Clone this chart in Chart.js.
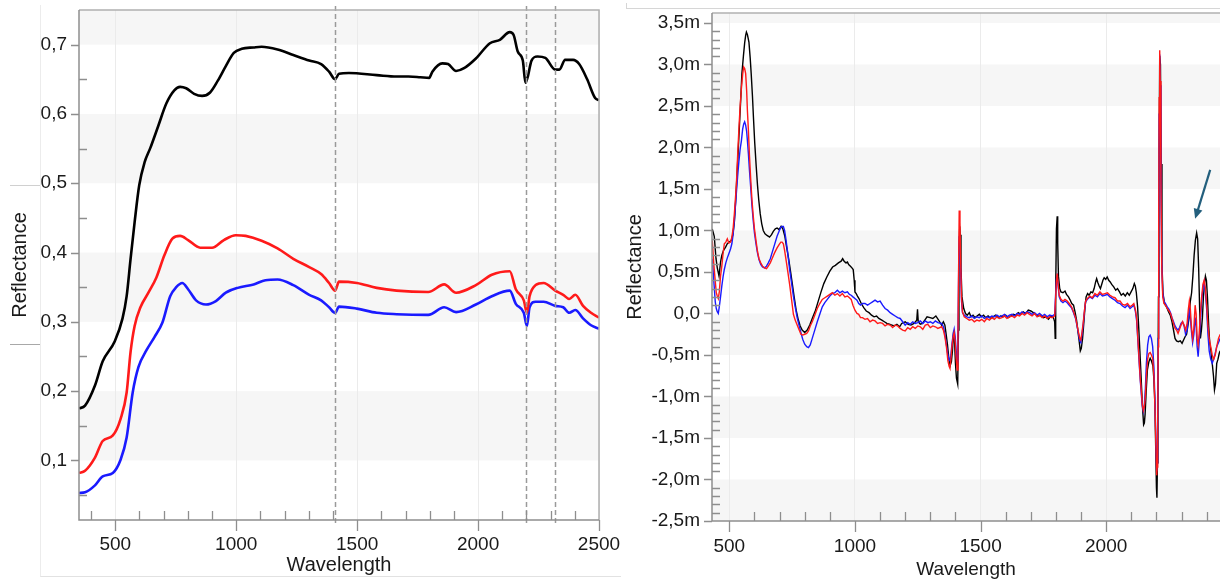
<!DOCTYPE html>
<html><head><meta charset="utf-8">
<script src="https://cdn.jsdelivr.net/npm/chart.js@4.4.1/dist/chart.umd.min.js"></script>
<style>
html,body{margin:0;padding:0;background:#fff;width:1220px;height:581px;overflow:hidden;position:relative}
.abs{position:absolute}
#left{position:absolute;left:0;top:0}
#right{position:absolute;left:620px;top:0}
</style></head><body>
<div class="abs" style="left:40px;top:5px;width:580px;height:571px;border-left:1px solid #ececec;border-bottom:1px solid #e2e2e2"></div>
<div class="abs" style="left:10px;top:185px;width:30px;height:0;border-top:1px solid #d0d0d0"></div>
<div class="abs" style="left:10px;top:344px;width:30px;height:0;border-top:1px solid #a8a8a8"></div>
<div class="abs" style="left:626px;top:8px;width:594px;height:0;border-top:1px solid #d6d6d6"></div>
<div class="abs" style="left:626px;top:3px;width:0;height:6px;border-left:1px solid #d6d6d6"></div>
<canvas id="left" width="620" height="581"></canvas>
<canvas id="right" width="600" height="581"></canvas>
<script>
// ---------- LEFT PANEL (reflectance spectra) ----------
const leftXTicks = [500, 1000, 1500, 2000, 2500];
const leftXTickLabels = ['500', '1000', '1500', '2000', '2500'];
const leftYTicks = [0.1, 0.2, 0.3, 0.4, 0.5, 0.6, 0.7];
const leftYTickLabels = ['0,1', '0,2', '0,3', '0,4', '0,5', '0,6', '0,7'];
const leftMarkers = [1410, 2200, 2320];

const leftBlackWl = [350,375,416,448,498,530,547,563,580,599,621,645,678,711,744,768,793,826,859,892,
  924,957,990,1023,1072,1105,1171,1236,1302,1351,1384,1409,1425,1466,1581,1663,1712,1761,1798,1811,
  1852,1876,1909,1942,1991,2049,2090,2131,2147,2164,2185,2196,2205,2221,2246,2278,2319,2336,2360,2393,
  2418,2451,2484,2500];
const leftBlack = [0.175,0.179,0.208,0.243,0.272,0.305,0.337,0.39,0.444,0.497,0.53,0.551,0.583,0.615,0.634,0.639,0.637,0.629,0.626,0.631,
  0.648,0.669,0.688,0.694,0.696,0.697,0.693,0.685,0.677,0.672,0.661,0.650,0.658,0.659,0.656,0.654,0.654,0.653,0.652,0.661,
  0.673,0.672,0.662,0.666,0.68,0.702,0.707,0.718,0.714,0.690,0.677,0.645,0.653,0.677,0.683,0.681,0.664,0.664,0.678,0.678,
  0.672,0.650,0.623,0.620];

const leftRedWl = [350,375,416,448,490,522,547,563,580,604,637,670,703,736,768,801,851,900,949,998,
  1039,1105,1171,1236,1302,1351,1384,1409,1425,1499,1581,1663,1794,1860,1909,1991,2057,2131,2156,2189,
  2202,2213,2238,2271,2319,2352,2377,2402,2434,2467,2500];
const leftRed = [0.082,0.085,0.104,0.128,0.136,0.160,0.198,0.256,0.294,0.321,0.342,0.364,0.396,0.420,0.424,0.418,0.407,0.407,0.418,0.425,
  0.424,0.417,0.406,0.391,0.379,0.369,0.356,0.345,0.358,0.356,0.349,0.345,0.343,0.354,0.342,0.353,0.368,0.373,0.347,0.331,
  0.313,0.337,0.353,0.356,0.345,0.339,0.333,0.339,0.323,0.313,0.306];

const leftBlueWl = [350,375,416,448,490,522,547,572,596,629,662,695,727,752,777,801,834,875,916,957,
  1006,1072,1121,1171,1236,1302,1351,1384,1409,1425,1499,1581,1663,1794,1860,1909,1991,2057,2131,2156,
  2189,2202,2213,2238,2271,2319,2352,2377,2402,2434,2467,2500];
const leftBlue = [0.053,0.054,0.064,0.077,0.082,0.101,0.133,0.198,0.235,0.259,0.278,0.299,0.337,0.350,0.356,0.347,0.331,0.325,0.330,0.342,
  0.349,0.354,0.360,0.361,0.353,0.339,0.331,0.321,0.313,0.322,0.319,0.313,0.311,0.310,0.321,0.314,0.325,0.337,0.345,0.326,
  0.313,0.294,0.321,0.329,0.329,0.323,0.321,0.313,0.317,0.305,0.295,0.290];

// ---------- RIGHT PANEL (derivative, units of 1e-3 = "m") ----------
const rightXTicks = [500, 1000, 1500, 2000];
const rightXTickLabels = ['500', '1000', '1500', '2000'];
const rightYTicks = [-2.5,-2,-1.5,-1,-0.5,0,0.5,1,1.5,2,2.5,3,3.5];
const rightYTickLabels = ['-2,5m','-2,0m','-1,5m','-1,0m','-0,5m','0,0','0,5m','1,0m','1,5m','2,0m','2,5m','3,0m','3,5m'];
const arrowFrom = [2414, 1.73];
const arrowTo = [2354, 1.14];

const rightBlackWl = [432,440,447,452,459,465,470,477,485,492,
  500,508,514,520,525,530,536,541,546,550,
  556,561,565,568,572,578,583,587,592,596,
  601,607,612,617,623,629,635,642,650,660,
  668,675,683,690,698,706,713,721,728,736,
  744,751,758,766,774,782,790,800,810,820,
  830,843,853,865,876,888,900,911,922,934,
  945,951,957,964,970,975,982,988,993,997,
  1000,1005,1010,1016,1025,1035,1045,1056,1066,1076,
  1086,1095,1107,1117,1127,1137,1147,1157,1167,1178,
  1186,1193,1200,1212,1223,1235,1246,1249,1252,1260,
  1269,1278,1287,1299,1310,1322,1333,1345,1352,1358,
  1363,1368,1374,1379,1384,1388,1392,1396,1400,1404,
  1409,1412,1414,1417,1419,1422,1426,1433,1440,1447,
  1455,1462,1470,1478,1486,1495,1503,1512,1520,1530,
  1540,1550,1560,1570,1580,1590,1600,1610,1620,1630,
  1640,1650,1660,1670,1680,1690,1700,1710,1720,1730,
  1740,1750,1760,1770,1780,1790,1795,1797,1799,1802,
  1805,1807,1810,1815,1820,1828,1836,1842,1850,1857,
  1863,1870,1876,1882,1887,1892,1897,1901,1906,1910,
  1915,1920,1926,1932,1939,1946,1952,1958,1962,1967,
  1972,1977,1982,1987,1992,1998,2004,2010,2016,2022,
  2030,2038,2045,2053,2060,2068,2076,2084,2092,2099,
  2106,2112,2116,2120,2125,2130,2134,2138,2141,2145,
  2149,2152,2155,2159,2164,2170,2175,2180,2186,2190,
  2194,2197,2200,2202,2204,2206,2208,2210,2213,2216,
  2219,2222,2226,2232,2240,2248,2255,2262,2268,2274,
  2280,2287,2295,2302,2308,2314,2320,2325,2330,2335,
  2340,2345,2350,2355,2360,2364,2368,2372,2375,2379,
  2383,2387,2391,2395,2399,2403,2408,2412,2417,2422,
  2427,2431,2435,2440,2445,2450,2454];
const rightBlack = [1.02,0.93,0.66,0.55,0.45,0.62,0.70,0.76,0.80,0.84,
  0.86,0.88,0.95,1.10,1.35,1.64,2.00,2.31,2.62,2.89,
  3.10,3.26,3.35,3.39,3.36,3.27,3.08,2.89,2.62,2.36,
  2.06,1.77,1.55,1.37,1.20,1.08,1.00,0.96,0.94,0.92,
  0.95,0.99,1.02,1.03,1.01,1.05,1.02,0.93,0.80,0.66,
  0.50,0.35,0.20,0.04,-0.07,-0.15,-0.20,-0.23,-0.20,-0.14,
  -0.06,0.04,0.14,0.26,0.36,0.44,0.51,0.56,0.58,0.61,
  0.63,0.66,0.63,0.61,0.62,0.59,0.57,0.55,0.53,0.40,
  0.26,0.24,0.21,0.18,0.12,0.07,0.03,0.01,-0.02,-0.04,
  -0.03,-0.06,-0.08,-0.10,-0.12,-0.13,-0.14,-0.15,-0.13,-0.16,
  -0.12,-0.11,-0.10,-0.13,-0.14,-0.12,-0.08,0.05,-0.10,-0.13,
  -0.12,-0.08,-0.04,-0.05,-0.06,-0.03,-0.08,-0.14,-0.10,-0.14,
  -0.25,-0.37,-0.55,-0.63,-0.58,-0.45,-0.25,-0.30,-0.60,-0.78,
  -0.85,-0.20,0.66,1.05,0.95,0.55,0.20,0.06,0.00,-0.02,
  0.01,-0.04,-0.02,-0.05,-0.03,-0.01,-0.04,-0.02,-0.05,-0.03,
  -0.06,-0.04,-0.02,-0.05,-0.03,-0.04,-0.02,-0.05,-0.03,-0.01,
  -0.02,0.01,-0.01,0.02,0.00,0.04,0.03,0.01,-0.01,-0.03,
  -0.02,-0.05,-0.04,-0.07,-0.03,-0.05,-0.10,-0.30,0.30,1.02,
  1.17,0.85,0.45,0.30,0.26,0.25,0.27,0.23,0.20,0.16,
  0.12,0.10,0.02,-0.08,-0.20,-0.32,-0.45,-0.42,-0.30,-0.15,
  0.05,0.20,0.24,0.22,0.26,0.25,0.30,0.38,0.42,0.37,
  0.33,0.30,0.35,0.40,0.43,0.41,0.44,0.40,0.38,0.35,
  0.32,0.28,0.30,0.26,0.22,0.24,0.21,0.25,0.22,0.26,
  0.30,0.36,0.33,0.25,0.08,-0.20,-0.45,-0.70,-0.90,-1.15,
  -1.34,-1.32,-1.21,-0.95,-0.68,-0.58,-0.54,-0.57,-0.63,-0.80,
  -1.10,-1.60,-2.10,-2.22,-1.80,-1.00,0.20,1.50,3.10,3.00,
  1.80,0.60,0.25,0.12,0.08,0.02,-0.02,-0.10,-0.20,-0.30,
  -0.33,-0.34,-0.33,-0.36,-0.32,-0.28,-0.25,-0.15,-0.05,0.15,
  0.25,0.45,0.70,0.88,0.97,0.90,0.55,0.05,-0.30,-0.20,
  -0.05,0.20,0.35,0.45,0.40,0.20,-0.15,-0.35,-0.45,-0.60,
  -0.75,-0.92,-0.85,-0.60,-0.55,-0.48,-0.45];

const rightWl = [432,438,444,448,452,456,460,465,470,475,
  480,486,492,498,505,510,515,520,528,533,
  538,543,548,553,557,561,565,569,572,576,
  580,585,590,595,600,606,612,618,625,632,
  640,648,655,663,670,680,690,698,705,710,
  715,720,725,732,740,748,755,762,770,778,
  785,792,800,808,815,822,830,840,850,860,
  870,880,890,900,910,920,930,940,950,960,
  970,978,985,992,1000,1008,1015,1022,1030,1040,
  1050,1060,1070,1080,1090,1100,1110,1120,1130,1140,
  1150,1160,1170,1180,1190,1200,1210,1220,1230,1240,
  1250,1260,1270,1280,1290,1300,1310,1320,1330,1345,
  1352,1358,1364,1370,1375,1378,1382,1386,1391,1395,
  1399,1403,1407,1410,1413,1415,1418,1421,1424,1428,
  1435,1445,1455,1465,1475,1485,1495,1505,1515,1525,
  1535,1545,1555,1565,1575,1585,1595,1605,1615,1625,
  1635,1645,1655,1665,1675,1685,1695,1705,1715,1725,
  1735,1745,1755,1765,1775,1785,1795,1799,1802,1805,
  1809,1813,1820,1828,1836,1845,1853,1862,1870,1878,
  1884,1890,1895,1899,1904,1909,1914,1918,1925,1935,
  1945,1955,1965,1975,1985,1995,2005,2015,2025,2035,
  2045,2055,2065,2075,2085,2095,2103,2110,2116,2121,
  2126,2131,2136,2140,2144,2148,2152,2156,2160,2165,
  2170,2175,2180,2185,2190,2194,2198,2201,2203,2205,
  2207,2209,2211,2213,2215,2218,2221,2225,2230,2236,
  2243,2250,2256,2262,2268,2274,2280,2286,2292,2298,
  2304,2310,2316,2322,2327,2331,2335,2339,2344,2349,
  2354,2358,2362,2366,2370,2375,2380,2385,2390,2395,
  2400,2405,2410,2416,2422,2428,2434,2440,2447,2454];
const rightRed = [0.88,0.60,0.39,0.25,0.21,0.18,0.26,0.45,0.57,0.72,
  0.84,0.86,0.90,0.85,0.86,0.92,1.02,1.20,1.55,1.90,
  2.22,2.50,2.71,2.88,2.97,2.95,2.89,2.68,2.44,2.20,
  1.91,1.62,1.37,1.18,1.02,0.88,0.75,0.66,0.61,0.57,
  0.55,0.54,0.57,0.61,0.66,0.73,0.79,0.83,0.86,0.86,
  0.84,0.76,0.66,0.52,0.35,0.16,-0.01,-0.08,-0.14,-0.20,
  -0.25,-0.26,-0.25,-0.24,-0.21,-0.15,-0.10,-0.02,0.06,0.12,
  0.17,0.19,0.21,0.23,0.25,0.22,0.24,0.21,0.24,0.20,
  0.21,0.19,0.17,0.10,0.04,0.00,-0.01,-0.05,-0.05,-0.07,
  -0.06,-0.10,-0.08,-0.09,-0.12,-0.11,-0.12,-0.15,-0.13,-0.14,
  -0.17,-0.14,-0.15,-0.18,-0.20,-0.21,-0.17,-0.19,-0.16,-0.18,
  -0.15,-0.16,-0.19,-0.14,-0.13,-0.17,-0.15,-0.16,-0.18,-0.16,
  -0.20,-0.28,-0.40,-0.57,-0.64,-0.66,-0.55,-0.40,-0.28,-0.23,
  -0.35,-0.55,-0.68,-0.30,0.66,1.24,1.10,0.60,0.20,0.02,
  -0.04,-0.06,-0.08,-0.07,-0.10,-0.08,-0.09,-0.07,-0.10,-0.06,
  -0.08,-0.05,-0.07,-0.04,-0.06,-0.05,-0.03,-0.06,-0.04,-0.03,
  -0.05,-0.02,-0.03,0.00,-0.02,0.01,-0.01,-0.03,0.00,-0.04,
  -0.02,-0.05,-0.03,-0.06,-0.04,-0.05,-0.03,0.20,0.39,0.48,
  0.35,0.22,0.17,0.15,0.17,0.15,0.12,0.08,0.02,-0.05,
  -0.14,-0.23,-0.30,-0.32,-0.22,-0.10,0.05,0.15,0.18,0.21,
  0.19,0.24,0.22,0.26,0.23,0.24,0.25,0.22,0.20,0.19,
  0.15,0.15,0.11,0.10,0.12,0.08,0.10,0.12,0.05,-0.05,
  -0.30,-0.55,-0.80,-0.94,-1.10,-1.17,-1.12,-1.00,-0.75,-0.55,
  -0.48,-0.47,-0.50,-0.54,-0.75,-1.12,-1.60,-1.95,-1.85,-1.30,
  -0.40,1.10,2.60,3.17,2.80,1.60,0.60,0.20,0.12,0.10,
  0.06,0.03,0.00,-0.06,-0.12,-0.18,-0.20,-0.24,-0.19,-0.14,
  -0.10,-0.14,-0.20,-0.12,0.05,0.15,0.05,-0.15,-0.30,-0.18,
  0.10,0.00,-0.30,-0.38,-0.25,0.00,0.20,0.35,0.40,0.30,
  0.10,-0.15,-0.30,-0.40,-0.50,-0.55,-0.50,-0.40,-0.30,-0.25];
const rightBlue = [0.66,0.40,0.14,0.06,0.02,0.00,0.08,0.20,0.33,0.44,
  0.53,0.61,0.67,0.72,0.78,0.84,0.95,1.12,1.45,1.65,
  1.83,1.98,2.08,2.22,2.28,2.31,2.27,2.19,2.08,1.92,
  1.73,1.52,1.30,1.12,0.97,0.84,0.73,0.65,0.59,0.56,
  0.55,0.57,0.61,0.66,0.73,0.83,0.93,0.99,1.04,1.05,
  1.05,1.00,0.90,0.74,0.53,0.36,0.21,0.08,-0.05,-0.15,
  -0.23,-0.31,-0.37,-0.40,-0.41,-0.38,-0.30,-0.20,-0.10,-0.01,
  0.08,0.13,0.17,0.21,0.24,0.25,0.28,0.25,0.27,0.25,
  0.26,0.23,0.22,0.20,0.18,0.16,0.12,0.10,0.12,0.12,
  0.10,0.12,0.14,0.16,0.14,0.15,0.10,0.06,0.04,0.01,
  -0.01,-0.03,-0.05,-0.06,-0.10,-0.14,-0.11,-0.13,-0.10,-0.12,
  -0.11,-0.09,-0.12,-0.09,-0.11,-0.10,-0.12,-0.09,-0.11,-0.12,
  -0.16,-0.25,-0.38,-0.50,-0.56,-0.57,-0.50,-0.37,-0.25,-0.19,
  -0.28,-0.45,-0.59,-0.25,0.57,0.93,0.80,0.50,0.15,0.01,
  -0.02,-0.04,-0.05,-0.03,-0.06,-0.04,-0.05,-0.03,-0.06,-0.04,
  -0.05,-0.03,-0.04,-0.02,-0.04,-0.03,-0.01,-0.04,-0.02,-0.01,
  -0.03,0.00,-0.01,0.02,0.00,0.02,0.01,-0.01,0.01,-0.02,
  0.00,-0.03,-0.01,-0.04,-0.02,-0.03,-0.01,0.25,0.42,0.45,
  0.32,0.20,0.15,0.13,0.15,0.13,0.10,0.07,0.01,-0.06,
  -0.15,-0.25,-0.33,-0.35,-0.25,-0.12,0.04,0.14,0.17,0.20,
  0.18,0.22,0.20,0.24,0.21,0.22,0.23,0.20,0.18,0.16,
  0.13,0.12,0.09,0.07,0.10,0.06,0.08,0.10,0.03,-0.08,
  -0.32,-0.58,-0.82,-0.98,-1.12,-1.18,-1.10,-0.90,-0.60,-0.38,
  -0.28,-0.26,-0.30,-0.40,-0.65,-1.05,-1.55,-1.90,-1.80,-1.20,
  -0.30,1.00,2.40,3.12,2.75,1.60,0.65,0.25,0.15,0.12,
  0.08,0.05,0.01,-0.05,-0.10,-0.15,-0.18,-0.20,-0.17,-0.12,
  -0.10,-0.15,-0.25,-0.20,-0.05,0.05,-0.05,-0.20,-0.35,-0.25,
  -0.05,-0.15,-0.40,-0.52,-0.35,-0.10,0.15,0.30,0.38,0.25,
  0.05,-0.25,-0.45,-0.55,-0.60,-0.55,-0.48,-0.40,-0.35,-0.30];

// ---------- helpers ----------
const FONT = '"Liberation Sans", Arial, Helvetica, sans-serif';
Chart.defaults.font.family = FONT;
Chart.defaults.color = '#1a1a1a';
const xy = (w, v) => w.map((x, i) => ({x, y: v[i]}));
const range = (a, b, s, skip) => { const r = []; for (let v = a; v <= b + 1e-9; v += s) { const q = Math.round(v * 1000) / 1000; if (!skip.some(k => Math.abs(k - q) < 1e-6)) r.push(q); } return r; };

const decor = {
  id: 'decor',
  beforeDraw(chart, _a, o) {
    const {ctx, chartArea: a, scales: {y}} = chart;
    ctx.save();
    ctx.fillStyle = '#f6f6f6';
    o.bands.forEach(([lo, hi]) => {
      const t = y.getPixelForValue(Math.min(hi, y.max));
      const b = y.getPixelForValue(Math.max(lo, y.min));
      if (b > t) ctx.fillRect(a.left, t, a.right - a.left, b - t);
    });
    ctx.restore();
  },
  afterDatasetsDraw(chart, _a, o) {
    const {ctx, chartArea: a, scales: {x, y}} = chart;
    ctx.save();
    ctx.strokeStyle = '#9a9a9a'; ctx.lineWidth = 1.5; ctx.setLineDash([5, 3]);
    (o.dashed || []).forEach(v => {
      const px = Math.round(x.getPixelForValue(v)) + 0.5;
      ctx.beginPath(); ctx.moveTo(px, a.top - 4); ctx.lineTo(px, a.bottom + 5); ctx.stroke();
    });
    ctx.setLineDash([]);
    if (o.arrow) {
      const x0 = x.getPixelForValue(o.arrow[0][0]), y0 = y.getPixelForValue(o.arrow[0][1]);
      const x1 = x.getPixelForValue(o.arrow[1][0]), y1 = y.getPixelForValue(o.arrow[1][1]);
      const ang = Math.atan2(y1 - y0, x1 - x0), L = 11, W = 0.42;
      ctx.strokeStyle = '#235f7d'; ctx.fillStyle = '#235f7d'; ctx.lineWidth = 2.2;
      ctx.beginPath(); ctx.moveTo(x0, y0); ctx.lineTo(x1 - 6 * Math.cos(ang), y1 - 6 * Math.sin(ang)); ctx.stroke();
      ctx.beginPath(); ctx.moveTo(x1, y1);
      ctx.lineTo(x1 - L * Math.cos(ang - W), y1 - L * Math.sin(ang - W));
      ctx.lineTo(x1 - L * Math.cos(ang + W), y1 - L * Math.sin(ang + W));
      ctx.closePath(); ctx.fill();
    }
    // frame
    ctx.strokeStyle = '#b0b0b0'; ctx.lineWidth = 1.5;
    ctx.beginPath(); ctx.moveTo(a.left, a.top); ctx.lineTo(a.right, a.top);
    if (o.rightBorder) ctx.lineTo(a.right, a.bottom);
    ctx.stroke();
    ctx.strokeStyle = '#8e8e8e';
    ctx.beginPath(); ctx.moveTo(a.left, a.top); ctx.lineTo(a.left, a.bottom); ctx.lineTo(a.right, a.bottom); ctx.stroke();
    // ticks
    ctx.strokeStyle = '#8e8e8e'; ctx.lineWidth = 1.3;
    ctx.beginPath();
    o.yMajor.forEach(v => { const p = Math.round(y.getPixelForValue(v)) + 0.5; ctx.moveTo(a.left - 8, p); ctx.lineTo(a.left, p); });
    o.yMinor.forEach(v => { const p = Math.round(y.getPixelForValue(v)) + 0.5; ctx.moveTo(a.left, p); ctx.lineTo(a.left + 8, p); });
    o.xMajor.forEach(v => { const p = Math.round(x.getPixelForValue(v)) + 0.5; ctx.moveTo(p, a.bottom); ctx.lineTo(p, a.bottom + 11); });
    o.xMinor.forEach(v => { const p = Math.round(x.getPixelForValue(v)) + 0.5; ctx.moveTo(p, a.bottom); ctx.lineTo(p, a.bottom - 9); });
    ctx.stroke();
    ctx.restore();
  }
};

function axisX(min, max, ticks, labels, size, pad, titleSize, titlePad, h) {
  return {
    type: 'linear', min, max,
    afterBuildTicks: s => { s.ticks = ticks.map(v => ({value: v})); },
    afterFit: s => { s.height = h; s.paddingLeft = 0; s.paddingRight = 0; },
    ticks: {autoSkip: false, maxRotation: 0, padding: pad, color: '#1a1a1a', font: {size},
      callback: (v, i) => labels[i]},
    grid: {color: '#ebebeb', lineWidth: 1, drawTicks: false},
    border: {display: false},
    title: {display: true, text: 'Wavelength', color: '#1a1a1a', font: {size: titleSize}, padding: {top: 0, bottom: titlePad}}
  };
}
function axisY(min, max, ticks, labels, size, pad, titleSize, titlePad, w) {
  return {
    type: 'linear', min, max,
    afterBuildTicks: s => { s.ticks = ticks.map(v => ({value: v})); },
    afterFit: s => { s.width = w; s.paddingTop = 0; s.paddingBottom = 0; },
    ticks: {autoSkip: false, padding: pad, color: '#1a1a1a', font: {size},
      callback: (v, i) => labels[i]},
    grid: {display: false, drawTicks: false},
    border: {display: false},
    title: {display: true, text: 'Reflectance', color: '#1a1a1a', font: {size: titleSize}, padding: {top: titlePad, bottom: 0}}
  };
}
const base = {
  responsive: false, animation: false, devicePixelRatio: 1, events: [],
  elements: {point: {radius: 0}, line: {fill: false}},
};

new Chart(document.getElementById('left'), {
  type: 'line',
  data: {datasets: [
    {label: 'Red', data: xy(leftRedWl, leftRed), borderColor: '#ff1a1a', borderWidth: 2.6, cubicInterpolationMode: 'monotone'},
    {label: 'Blue', data: xy(leftBlueWl, leftBlue), borderColor: '#1a1aff', borderWidth: 2.6, cubicInterpolationMode: 'monotone'},
    {label: 'Black', data: xy(leftBlackWl, leftBlack), borderColor: '#000000', borderWidth: 2.6, cubicInterpolationMode: 'monotone'}
  ]},
  options: Object.assign({}, base, {
    layout: {padding: {left: 0, top: 10, right: 21, bottom: 0}},
    plugins: {legend: {display: false}, tooltip: {enabled: false},
      decor: {bands: [[0.7, 0.8], [0.5, 0.6], [0.3, 0.4], [0.1, 0.2]], dashed: leftMarkers, rightBorder: true,
        yMajor: leftYTicks, yMinor: range(0.05, 0.65, 0.1, []),
        xMajor: leftXTicks, xMinor: range(400, 2400, 100, leftXTicks)}},
    scales: {
      x: axisX(350, 2500, leftXTicks, leftXTickLabels, 19, 13, 20, 4, 61),
      y: axisY(0.014, 0.75, leftYTicks, leftYTickLabels, 19, 12, 20, 8, 79)
    }
  }),
  plugins: [decor]
});

new Chart(document.getElementById('right'), {
  type: 'line',
  data: {datasets: [
    {label: 'Red', data: xy(rightWl, rightRed), borderColor: '#ff1a1a', borderWidth: 1.4, tension: 0},
    {label: 'Blue', data: xy(rightWl, rightBlue), borderColor: '#1a1aff', borderWidth: 1.4, tension: 0},
    {label: 'Black', data: xy(rightBlackWl, rightBlack), borderColor: '#000000', borderWidth: 1.4, tension: 0}
  ]},
  options: Object.assign({}, base, {
    layout: {padding: {left: 0, top: 13, right: 0, bottom: 0}},
    plugins: {legend: {display: false}, tooltip: {enabled: false},
      decor: {bands: [[3.5, 4.0], [2.5, 3.0], [1.5, 2.0], [0.5, 1.0], [-0.5, 0], [-1.5, -1.0], [-2.5, -2.0]],
        dashed: [], rightBorder: false, arrow: [arrowFrom, arrowTo],
        yMajor: rightYTicks, yMinor: range(-2.4, 3.4, 0.1, rightYTicks),
        xMajor: rightXTicks, xMinor: range(600, 2400, 100, rightXTicks)}},
    scales: {
      x: axisX(431, 2453, rightXTicks, rightXTickLabels, 19, 14, 19, 0, 60),
      y: axisY(-2.5, 3.62, rightYTicks, rightYTickLabels, 19, 12, 20, 3, 92)
    }
  }),
  plugins: [decor]
});
</script>
</body></html>
